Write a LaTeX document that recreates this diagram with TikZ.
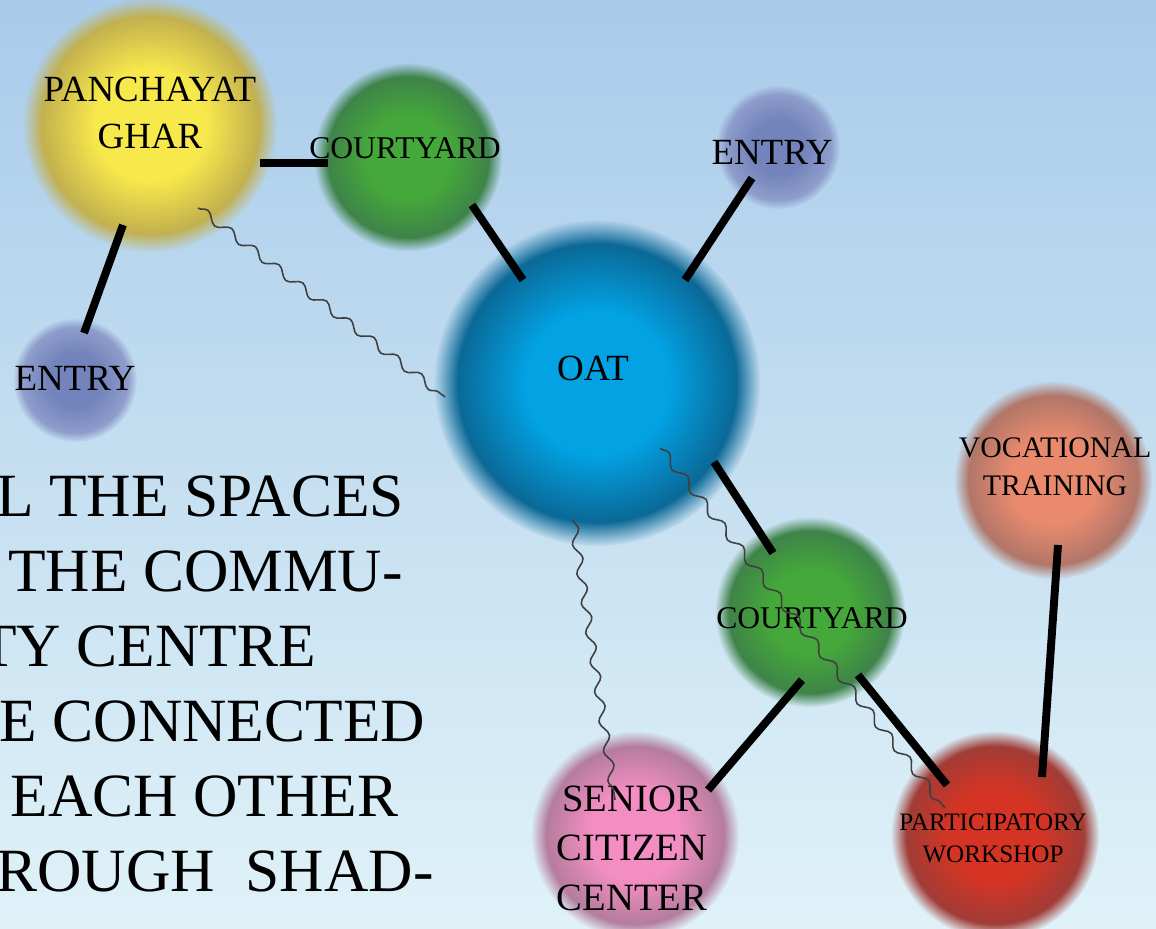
\documentclass[tikz,border=0pt]{standalone}
\usepackage{fontspec}
\setmainfont{Liberation Serif}
\usetikzlibrary{calc,fadings,decorations.pathmorphing}

\definecolor{skyTop}{HTML}{A9CBEA}
\definecolor{skyBottom}{HTML}{E0F2F8}
\definecolor{ghIn}{HTML}{F7E84C}  \definecolor{ghOut}{HTML}{C2B04E}
\definecolor{cyIn}{HTML}{45A83A}  \definecolor{cyOut}{HTML}{3E8349}
\definecolor{enIn}{HTML}{7384BC}  \definecolor{enOut}{HTML}{8E9DCB}
\definecolor{oatIn}{HTML}{02A2E3} \definecolor{oatOut}{HTML}{0A6896}
\definecolor{vtIn}{HTML}{E98A6E}  \definecolor{vtOut}{HTML}{B07668}
\definecolor{scIn}{HTML}{F28EC2}  \definecolor{scOut}{HTML}{B47C9C}
\definecolor{pwIn}{HTML}{D53424}  \definecolor{pwOut}{HTML}{A03C36}
\colorlet{ballIn}{white}
\colorlet{ballOut}{black}
\pgfdeclareradialshading[ballIn,ballOut]{softball}{\pgfpoint{0bp}{0bp}}{%
  color(0bp)=(ballIn); color(11bp)=(ballIn); color(21.5bp)=(ballOut); color(25bp)=(ballOut);
  color(50bp)=(ballOut)}

\tikzset{
  ball/.style 2 args={/utils/exec={\colorlet{ballIn}{#1}\colorlet{ballOut}{#2}},
    shading=softball, path fading=circle with fuzzy edge 15 percent},
  space/.style={font=\fontsize{#1}{\dimexpr #1*128/100\relax}\selectfont, align=center, inner sep=0pt},
  link/.style={line width=4.5pt, black},
  shadeLink/.style={decorate, decoration={snake, amplitude=2.4pt, segment length=17pt},
    line width=0.9pt, black!75},
  bigText/.style={font=\fontsize{35pt}{42.7pt}\selectfont, align=left, inner sep=0pt}
}

\begin{document}
\begin{tikzpicture}[x=0.02cm,y=-0.02cm]
\useasboundingbox (0,0) rectangle (1156,929);
\clip (0,0) rectangle (1156,929);
\shade[top color=skyTop, bottom color=skyBottom] (0,0) rectangle (1156,929);

% balls
\shade[ball={ghIn}{ghOut}] (150,125) circle (127);
\shade[ball={cyIn}{cyOut}] (408,157) circle (94);
\shade[ball={enIn}{enOut}] (778,147) circle (62);
\shade[ball={enIn}{enOut}] (75,380) circle (62);
\shade[ball={oatIn}{oatOut}] (597,383) circle (163);
\shade[ball={cyIn}{cyOut}] (810,612) circle (95);
\shade[ball={vtIn}{vtOut}] (1053,480) circle (99);
\shade[ball={scIn}{scOut}] (635,835) circle (104);
\shade[ball={pwIn}{pwOut}] (995,835) circle (104);

% spaces
\node[space=21pt] (pg) at (150,113) {PANCHAYAT\\GHAR};
\node[space=18pt] (cy1) at (405,148) {COURTYARD};
\node[space=21pt] (en2) at (772,152) {ENTRY};
\node[space=21pt] (en1) at (75,378) {ENTRY};
\node[space=21pt] (oat) at (593,368) {OAT};
\node[space=17pt] (vt) at (1055,467) {VOCATIONAL\\TRAINING};
\node[space=18pt] (cy2) at (812,618) {COURTYARD};
\node[space=22pt] (sc) at (632,848) {SENIOR\\CITIZEN\\CENTER};
\node[space=14.3pt] (pw) at (993,838) {PARTICIPATORY\\WORKSHOP};

\node[bigText, anchor=north west] (note) at (-86,475)
  {ALL THE SPACES\\OF THE COMMU-\\NITY CENTRE\\ARE CONNECTED\\TO EACH OTHER\\THROUGH~ SHAD-};

% direct links
\draw[link] ($(pg)+(-27,112)$) -- ($(en1)+(9,-45)$);
\draw[link] ($(pg)+(110,50)$) -- ($(cy1)+(-77,15)$);
\draw[link] ($(cy1)+(67,57)$) -- ($(oat)+(-70,-88)$);
\draw[link] ($(en2)+(-20,26)$) -- ($(oat)+(92,-88)$);
\draw[link] ($(oat)+(121,94)$) -- ($(cy2)+(-39,-65)$);
\draw[link] ($(cy2)+(-10,62)$) -- ($(sc)+(76,-58)$);
\draw[link] ($(cy2)+(46,57)$) -- ($(pw)+(-46,-53)$);
\draw[link] ($(vt)+(3,78)$) -- ($(pw)+(49,-61)$);

% shaded links
\draw[shadeLink] ($(pg)+(48,95)$) -- ($(oat)+(-148,29)$);
\draw[shadeLink] ($(oat)+(67,80)$) -- ($(pw)+(-48,-30)$);
\draw[shadeLink] ($(oat)+(-20,152)$) -- ($(sc)+(-17,-48)$);
\end{tikzpicture}
\end{document}
